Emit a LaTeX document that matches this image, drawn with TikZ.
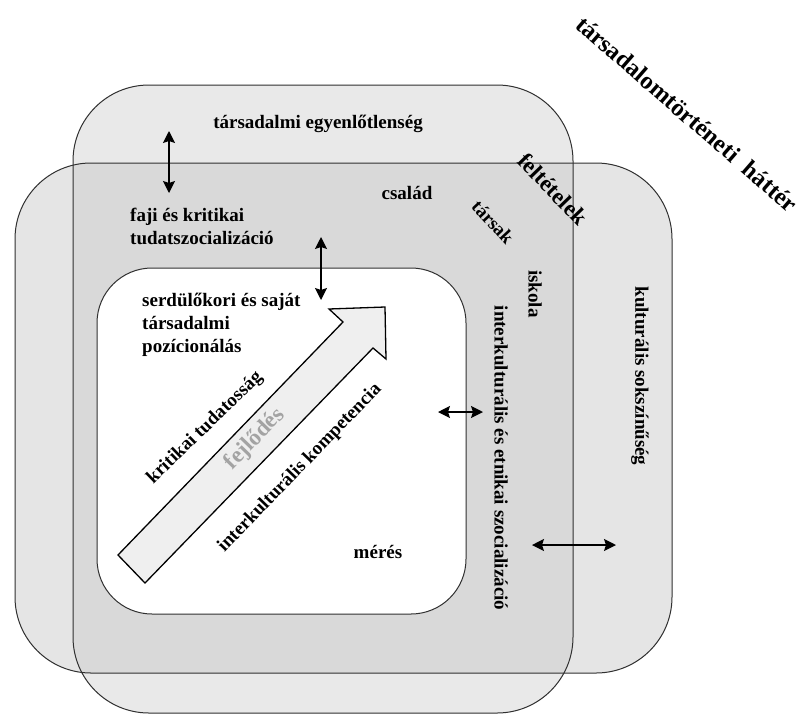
\documentclass[tikz,border=0pt]{standalone}
\usepackage{fontspec}
\setmainfont{Liberation Serif}
\usetikzlibrary{arrows.meta}
\definecolor{fillA}{HTML}{E9E9E9}
\definecolor{fillB}{HTML}{E5E5E5}
\definecolor{fillAB}{HTML}{D9D9D9}
\definecolor{arrowfill}{HTML}{EFEFEF}
\definecolor{fejgray}{HTML}{A3A3A3}
\definecolor{edge}{HTML}{303030}
\begin{document}
\begin{tikzpicture}[x=1pt,y=-1pt,
  lbl/.style={font=\bfseries\fontsize{19}{23}\selectfont, inner sep=0pt},
  big/.style={font=\bfseries\fontsize{23}{28}\selectfont, inner sep=0pt},
  bigger/.style={font=\bfseries\fontsize{24.5}{29}\selectfont, inner sep=0pt},
  frame/.style={draw=edge, line width=1pt},
  dbl/.style={line width=1.4pt, {Stealth[length=12pt,width=12pt,inset=2pt]}-{Stealth[length=12pt,width=12pt,inset=2pt]}},
  ]
\useasboundingbox (0,0) rectangle (802,715);
\fill[white] (0,0) rectangle (802,715);
% outer rounded frames
\fill[fillA, rounded corners=76pt] (73,85) rectangle (573,713);
\fill[fillB, rounded corners=76pt] (15,163) rectangle (672,673);
\begin{scope}
  \clip[rounded corners=76pt] (73,85) rectangle (573,713);
  \fill[fillAB, rounded corners=76pt] (15,163) rectangle (672,673);
\end{scope}
\draw[frame, rounded corners=76pt] (73,85) rectangle (573,713);
\draw[frame, rounded corners=76pt] (15,163) rectangle (672,673);
% inner white frame
\draw[frame, fill=white, rounded corners=55pt] (97,268) rectangle (466,614);
% big development arrow
\draw[draw=black, line width=1.3pt, fill=arrowfill, line join=miter]
  (118,555) -- (343,322) -- (329,309) -- (385,307) -- (386,359) -- (373,348) -- (145,583) -- cycle;
% double arrows
\coordinate (a1t) at (169,131); \coordinate (a1b) at (169,193);
\coordinate (a2t) at (321,237); \coordinate (a2b) at (321,300);
\coordinate (a3l) at (438,412); \coordinate (a3r) at (483,412);
\coordinate (a4l) at (532,545); \coordinate (a4r) at (616,545);
\draw[dbl] (a1t) -- (a1b);
\draw[dbl] (a2t) -- (a2b);
\draw[dbl] (a3l) -- (a3r);
\draw[dbl] (a4l) -- (a4r);
% labels
\node[lbl] (ineq) at (318,124) {társadalmi egyenlőtlenség};
\node[lbl, align=left, anchor=west] (faji) at (130,226) {faji és kritikai\\tudatszocializáció};
\node[lbl] (csalad) at (407,193) {család};
\node[lbl, rotate=-47] (tarsak) at (493,222) {társak};
\node[big, rotate=-46] (felt) at (553,189) {feltételek};
\node[bigger, rotate=-41] (hatter) at (687,114) {társadalomtörténeti\ \ háttér};
\node[lbl, rotate=-90] (iskola) at (535,294) {iskola};
\node[lbl, rotate=-90] (ies) at (501,458) {interkulturális és etnikai szocializáció};
\node[lbl, rotate=-90] (kult) at (640,376) {kulturális sokszínűség};
\node[lbl, align=left, anchor=west] (serd) at (142,325) {serdülőkori és saját\\társadalmi\\pozícionálás};
\node[lbl, rotate=44] (krit) at (205,428) {kritikai tudatosság};
\node[big, rotate=46, text=fejgray] (fejl) at (255,439) {fejlődés};
\node[lbl, rotate=46] (ikomp) at (300,468) {interkulturális kompetencia};
\node[lbl] (meres) at (378,552) {mérés};
\end{tikzpicture}
\end{document}
